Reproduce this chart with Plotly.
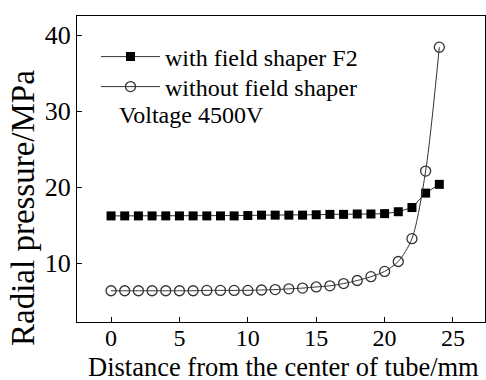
import plotly.graph_objects as go

distance = list(range(0, 25))
with_shaper_f2 = [16.2, 16.2, 16.2, 16.2, 16.2, 16.2, 16.2, 16.2, 16.2, 16.2,
                  16.25, 16.3, 16.3, 16.3, 16.3, 16.35, 16.4, 16.4, 16.45, 16.45,
                  16.5, 16.75, 17.3, 19.2, 20.35]
without_shaper = [6.35, 6.35, 6.35, 6.35, 6.35, 6.35, 6.35, 6.4, 6.4, 6.4,
                  6.4, 6.45, 6.5, 6.6, 6.7, 6.85, 7.0, 7.3, 7.7, 8.2,
                  8.9, 10.2, 13.2, 22.1, 38.4]
x_ticks = [0, 5, 10, 15, 20, 25]
y_ticks = [10, 20, 30, 40]

FONT = "Liberation Serif, Times New Roman, serif"
L, R, T, B = 77, 485, 16, 322
PW, PH = R - L, B - T

fig = go.Figure()
fig.add_trace(go.Scatter(
    x=distance, y=with_shaper_f2, name="with field shaper F2",
    mode="lines+markers", legend="legend",
    line=dict(color="#333333", width=1),
    marker=dict(symbol="square", size=9, color="black", line=dict(width=0)),
))
fig.add_trace(go.Scatter(
    x=distance, y=without_shaper, name="without field shaper",
    mode="lines+markers", legend="legend2",
    line=dict(color="#333333", width=1, shape="spline", smoothing=0.8),
    marker=dict(symbol="circle-open", size=10, color="#333333", line=dict(width=1.3)),
))

fig.add_annotation(
    text="Voltage 4500V", xref="paper", yref="paper",
    x=(117 - L) / PW, y=(B - 115) / PH, xanchor="left", yanchor="middle",
    showarrow=False, font=dict(family=FONT, size=24, color="black"),
)
fig.add_annotation(
    text="Radial pressure/MPa", xref="paper", yref="paper",
    x=(23 - L) / PW, y=(B - 208) / PH, xanchor="center", yanchor="middle",
    textangle=-90, showarrow=False,
    font=dict(family=FONT, size=33, color="black"),
)
fig.add_annotation(
    text="Distance from the center of tube/mm", xref="paper", yref="paper",
    x=(283 - L) / PW, y=(B - 367) / PH, xanchor="center", yanchor="middle",
    showarrow=False, font=dict(family=FONT, size=26.5, color="black"),
)

legend_common = dict(
    xanchor="left", yanchor="middle", bgcolor="rgba(0,0,0,0)",
    font=dict(family=FONT, size=24), itemwidth=59,
)
fig.update_layout(
    width=486, height=380,
    margin=dict(l=L, r=486 - R, t=T, b=380 - B, autoexpand=False),
    paper_bgcolor="white", plot_bgcolor="white",
    font=dict(family=FONT, size=24, color="black"),
    showlegend=True,
    legend=dict(x=(96 - L) / PW, y=(B - 57) / PH, **legend_common),
    legend2=dict(x=(96 - L) / PW, y=(B - 87) / PH, **legend_common),
)
fig.update_xaxes(
    range=[-2.49, 27.34], tickvals=x_ticks, ticks="inside", ticklen=5,
    tickcolor="black", showline=True, linecolor="black", linewidth=1,
    mirror=True, showgrid=False, zeroline=False, automargin=False,
    tickfont=dict(size=24), ticklabelstandoff=-6,
)
fig.update_yaxes(
    range=[2.24, 42.5], tickvals=y_ticks, ticks="inside", ticklen=5,
    tickcolor="black", showline=True, linecolor="black", linewidth=1,
    mirror=True, showgrid=False, zeroline=False, automargin=False,
    tickfont=dict(size=26),
)

fig.write_html(
    "out.html",
    config={"displayModeBar": False},
    post_script="document.body.style.margin='0';document.body.style.padding='0';",
)
